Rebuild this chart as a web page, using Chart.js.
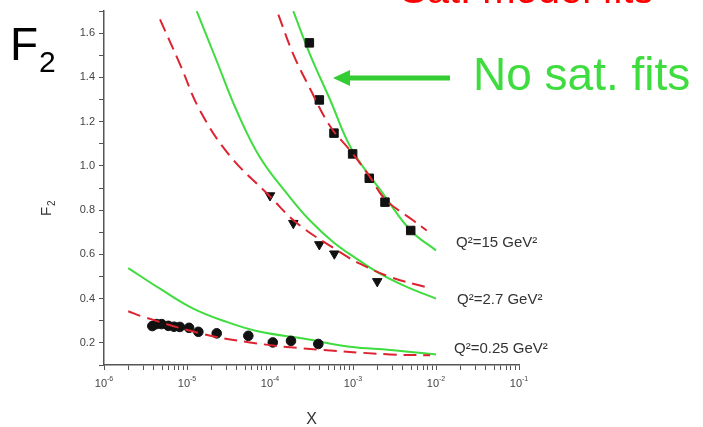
<!DOCTYPE html>
<html>
<head>
<meta charset="utf-8">
<script src="https://cdn.jsdelivr.net/npm/chart.js@4.4.1/dist/chart.umd.min.js"></script>
<style>
  html, body { margin: 0; padding: 0; background: #fff; }
  canvas { display: block; }
</style>
</head>
<body>
<canvas id="f2Chart" width="703" height="427"></canvas>
<script>
// data points (x, F2)
const q15X = [2.98e-4, 3.93e-4, 5.9e-4, 9.9e-4, 1.57e-3, 2.43e-3, 4.96e-3];
const q15Y = [1.556, 1.298, 1.148, 1.054, 0.944, 0.836, 0.708];
const q27X = [1.0e-4, 1.91e-4, 3.93e-4, 5.96e-4, 1.96e-3];
const q27Y = [0.866, 0.741, 0.645, 0.603, 0.478];
const q025X = [3.82e-6, 4.3e-6, 4.95e-6, 5.96e-6, 6.97e-6, 8.2e-6, 1.06e-5, 1.37e-5, 2.28e-5, 5.48e-5, 1.08e-4, 1.79e-4, 3.82e-4];
const q025Y = [0.276, 0.285, 0.285, 0.277, 0.273, 0.272, 0.268, 0.25, 0.243, 0.232, 0.202, 0.209, 0.195];

// no saturation fits (green)
const g15X = [1.91e-4, 3.03e-4, 5.28e-4, 9.64e-4, 2.32e-3, 4.95e-3, 1.0e-2];
const g15Y = [1.699, 1.504, 1.30, 1.075, 0.873, 0.708, 0.618];
const g27X = [1.31e-5, 2.28e-5, 3.97e-5, 7.59e-5, 1.74e-4, 3.03e-4, 5.8e-4, 1.11e-3, 2.11e-3, 4.44e-3, 1.0e-2];
const g27Y = [1.699, 1.474, 1.249, 1.038, 0.858, 0.753, 0.655, 0.58, 0.513, 0.453, 0.40];
const g025X = [1.96e-6, 4.73e-6, 1.19e-5, 3.0e-5, 7.59e-5, 2.52e-4, 9.2e-4, 2.79e-3, 1.0e-2];
const g025Y = [0.538, 0.445, 0.355, 0.295, 0.25, 0.22, 0.182, 0.168, 0.148];

// saturation fits (red dashed)
const r15X = [1.26e-4, 1.91e-4, 3.03e-4, 5.28e-4, 9.2e-4, 1.57e-3, 2.43e-3, 5.33e-3, 7.73e-3];
const r15Y = [1.684, 1.504, 1.35, 1.18, 1.07, 0.955, 0.85, 0.753, 0.708];
const r27X = [4.73e-6, 8.24e-6, 1.44e-5, 3.3e-5, 1.0e-4, 2.1e-4, 6.97e-4, 1.21e-3, 2.79e-3, 7.36e-3];
const r27Y = [1.662, 1.459, 1.249, 1.045, 0.862, 0.742, 0.61, 0.558, 0.498, 0.453];
const r025X = [1.96e-6, 2.97e-6, 1.44e-5, 5.74e-5, 2.52e-4, 2.79e-3, 8.5e-3];
const r025Y = [0.343, 0.318, 0.243, 0.202, 0.175, 0.148, 0.144];

const xDecades = [-6, -5, -4, -3, -2, -1];
const yLabels = ["0.2", "0.4", "0.6", "0.8", "1.0", "1.2", "1.4", "1.6"];
const q2Labels = ["Q²=15 GeV²", "Q²=2.7 GeV²", "Q²=0.25 GeV²"];

const GREEN = "#3fdc3f";
const RED = "#dd2230";

function pts(xs, ys) {
    return xs.map((x, i) => ({ x: x, y: ys[i] }));
}

function fitLine(xs, ys, color, dashed) {
    return {
        type: "line",
        data: pts(xs, ys),
        borderColor: color,
        borderWidth: 2,
        borderDash: dashed ? [13, 7] : [],
        pointRadius: 0,
        tension: 0.4,
        fill: false,
        order: dashed ? 1 : 3
    };
}

function dataSet(xs, ys, style, radius, rot) {
    return {
        type: "scatter",
        data: pts(xs, ys),
        pointStyle: style,
        pointRadius: radius,
        pointRotation: rot || 0,
        backgroundColor: "#111",
        borderColor: "#111",
        borderWidth: 1,
        order: 2
    };
}

// text, arrow and axis labels drawn on top
const decorations = {
    id: "decorations",
    afterDraw(chart) {
        const ctx = chart.ctx;
        const xs = chart.scales.x;
        const area = chart.chartArea;
        ctx.save();

        // x tick labels 10^n
        ctx.fillStyle = "#444";
        xDecades.forEach(d => {
            const px = xs.getPixelForValue(Math.pow(10, d));
            ctx.font = "11px 'Liberation Sans', Arial";
            const w1 = ctx.measureText("10").width;
            ctx.font = "7px 'Liberation Sans', Arial";
            const sup = String(d);
            const w2 = ctx.measureText(sup).width;
            const left = px - (w1 + w2) / 2;
            ctx.font = "11px 'Liberation Sans', Arial";
            ctx.textBaseline = "alphabetic";
            ctx.textAlign = "left";
            ctx.fillText("10", left, area.bottom + 22);
            ctx.font = "7px 'Liberation Sans', Arial";
            ctx.fillText(sup, left + w1, area.bottom + 16);
        });

        // axis titles
        ctx.fillStyle = "#333";
        ctx.font = "16px 'Liberation Sans', Arial";
        ctx.textAlign = "center";
        ctx.fillText("X", (area.left + area.right) / 2, 424);

        ctx.save();
        ctx.translate(51, 216);
        ctx.rotate(-Math.PI / 2);
        ctx.textAlign = "left";
        ctx.font = "15px 'Liberation Sans', Arial";
        ctx.fillText("F", 0, 0);
        ctx.font = "10px 'Liberation Sans', Arial";
        ctx.fillText("2", 10, 4);
        ctx.restore();

        // big F2 label
        ctx.fillStyle = "#000";
        ctx.textAlign = "left";
        ctx.font = "46px 'Liberation Sans', Arial";
        ctx.fillText("F", 10, 60);
        ctx.font = "30px 'Liberation Sans', Arial";
        ctx.fillText("2", 39, 72);

        // Q2 labels
        ctx.fillStyle = "#333";
        ctx.font = "15px 'Liberation Sans', Arial";
        const qy = [247, 304, 353];
        const qx = [456, 457, 454];
        q2Labels.forEach((t, i) => ctx.fillText(t, qx[i], qy[i]));

        // green arrow + text
        ctx.strokeStyle = "#33cc33";
        ctx.fillStyle = "#33cc33";
        ctx.lineWidth = 5;
        ctx.beginPath();
        ctx.moveTo(345, 78);
        ctx.lineTo(450, 78);
        ctx.stroke();
        ctx.beginPath();
        ctx.moveTo(333, 78);
        ctx.lineTo(350, 70);
        ctx.lineTo(350, 86);
        ctx.closePath();
        ctx.fill();

        ctx.fillStyle = GREEN;
        ctx.font = "46px 'Liberation Sans', Arial";
        ctx.fillText("No sat. fits", 473, 90);

        // red title cut at the top
        ctx.fillStyle = "#ff0000";
        ctx.font = "40px 'Liberation Sans', Arial";
        ctx.fillText("Sat. model fits", 400, 3);

        ctx.restore();
    }
};

const ctx = document.getElementById("f2Chart").getContext("2d");
new Chart(ctx, {
    data: {
        datasets: [
            fitLine(g15X, g15Y, GREEN, false),
            fitLine(g27X, g27Y, GREEN, false),
            fitLine(g025X, g025Y, GREEN, false),
            fitLine(r15X, r15Y, RED, true),
            fitLine(r27X, r27Y, RED, true),
            fitLine(r025X, r025Y, RED, true),
            dataSet(q15X, q15Y, "rect", 6),
            dataSet(q27X, q27Y, "triangle", 5.5, 180),
            dataSet(q025X, q025Y, "circle", 4.8)
        ]
    },
    options: {
        responsive: false,
        animation: false,
        layout: { padding: { top: 11, right: 184, left: 0, bottom: 0 } },
        plugins: { legend: { display: false }, tooltip: { enabled: false } },
        scales: {
            x: {
                type: "logarithmic",
                min: 1e-6,
                max: 1e-1,
                afterBuildTicks: scale => {
                    const t = [];
                    xDecades.forEach(d => {
                        const top = d === -1 ? 1 : 9;
                        for (let m = 1; m <= top; m++) t.push({ value: m * Math.pow(10, d) });
                    });
                    scale.ticks = t;
                },
                afterFit: scale => { scale.height = 62; },
                ticks: { callback: () => "", autoSkip: false, maxRotation: 0 },
                grid: { drawOnChartArea: false, tickLength: 5, color: "#555", tickWidth: 1 },
                border: { color: "#555", width: 1.5 }
            },
            y: {
                min: 0.1,
                max: 1.7,
                afterFit: scale => { scale.width = 104; },
                ticks: {
                    stepSize: 0.1,
                    autoSkip: false,
                    color: "#444",
                    padding: 4,
                    font: { family: "'Liberation Sans', Arial", size: 11 },
                    callback: v => {
                        const k = Math.round(v * 10);
                        return k % 2 === 0 ? yLabels[k / 2 - 1] : "";
                    }
                },
                grid: { drawOnChartArea: false, tickLength: 5, color: "#555", tickWidth: 1 },
                border: { color: "#555", width: 1.5 }
            }
        }
    },
    plugins: [decorations]
});
</script>
</body>
</html>
